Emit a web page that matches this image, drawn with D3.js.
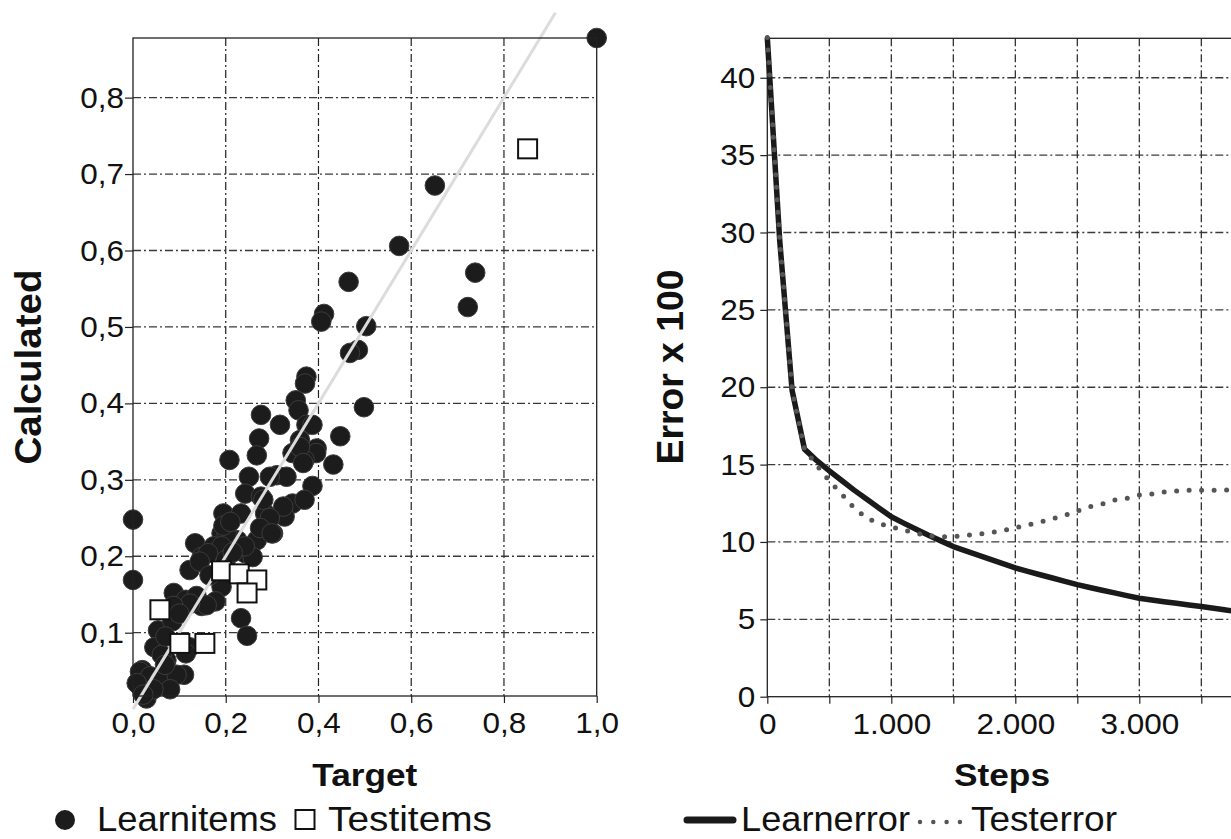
<!DOCTYPE html>
<html><head><meta charset="utf-8">
<script src="https://cdn.jsdelivr.net/npm/d3@7"></script>
<style>
body{margin:0;background:#fff}
svg{display:block}
text{font-family:"Liberation Sans",Arial,sans-serif;fill:#111}
</style>
</head><body>
<svg id="c" width="1231" height="839"></svg>
<script>
// ---------- data: left scatter ----------
const learnTarget = [1.0,0.651,0.574,0.738,0.722,0.465,0.412,0.406,0.503,0.485,0.468,0.374,0.371,0.351,0.357,0.498,0.447,0.396,0.374,0.317,0.360,0.276,0.387,0.272,0.267,0.208,0.344,0.395,0.370,0.432,0.250,0.310,0.387,0.242,0.276,0.344,0.370,0.195,0.233,0.285,0.327,0.0,0.302,0.191,0.225,0.267,0.134,0.174,0.242,0.258,0.148,0.122,0.191,0.0,0.178,0.148,0.088,0.114,0.233,0.246,0.054,0.046,0.122,0.114,0.072,0.020,0.072,0.110,0.012,0.054,0.029,0.331,0.295,0.281,0.324,0.295,0.274,0.202,0.299,0.241,0.191,0.162,0.144,0.137,0.159,0.123,0.087,0.360,0.367,0.062,0.015,0.037,0.008,0.058,0.094,0.080,0.044,0.022,0.069,0.165,0.200,0.215,0.085,0.100,0.070,0.195,0.210];
const learnCalc   = [0.878,0.685,0.606,0.571,0.526,0.559,0.517,0.507,0.501,0.470,0.466,0.435,0.426,0.404,0.391,0.395,0.357,0.341,0.372,0.372,0.352,0.385,0.372,0.354,0.332,0.326,0.335,0.335,0.326,0.320,0.304,0.306,0.292,0.282,0.278,0.269,0.274,0.256,0.256,0.256,0.252,0.248,0.230,0.230,0.221,0.221,0.217,0.213,0.204,0.199,0.199,0.182,0.160,0.169,0.141,0.135,0.152,0.143,0.119,0.096,0.103,0.081,0.081,0.073,0.064,0.051,0.043,0.045,0.032,0.030,0.014,0.304,0.304,0.274,0.265,0.250,0.237,0.230,0.230,0.213,0.213,0.204,0.193,0.148,0.136,0.138,0.135,0.343,0.322,0.071,0.049,0.043,0.034,0.038,0.045,0.026,0.026,0.019,0.058,0.175,0.195,0.205,0.115,0.125,0.095,0.240,0.245];
const testTarget = [0.851,0.058,0.101,0.155,0.191,0.229,0.267,0.246];
const testCalc   = [0.733,0.130,0.086,0.086,0.181,0.177,0.169,0.152];
const identityLine = [0, 0.911];
const scatterXTicks = [0,0.2,0.4,0.6,0.8,1.0];
const scatterYTicks = [0.1,0.2,0.3,0.4,0.5,0.6,0.7,0.8];

// ---------- data: right error curves ----------
const steps = d3.range(0, 3801, 100);
const learnError = [42.6,29.5,19.8,16.0,15.25,14.6,13.97,13.35,12.78,12.2,11.63,11.22,10.82,10.43,10.07,9.7,9.42,9.15,8.87,8.6,8.32,8.1,7.88,7.67,7.45,7.24,7.06,6.88,6.71,6.53,6.36,6.25,6.14,6.04,5.93,5.83,5.72,5.6,5.5];
const testError  = [42.6,29.5,19.8,16.0,14.95,13.95,13.1,12.2,11.55,11.2,10.98,10.77,10.56,10.4,10.34,10.34,10.43,10.51,10.6,10.73,10.92,11.1,11.29,11.5,11.72,12.0,12.28,12.45,12.71,12.82,13.03,13.1,13.23,13.29,13.34,13.34,13.34,13.36,13.36];
const stepGrid = [500,1000,1500,2000,2500,3000,3500];
const stepTicks = [0,500,1000,1500,2000,2500,3000,3500];
const errorTicks = [0,5,10,15,20,25,30,35,40];

const leftLegend = ["Learnitems","Testitems"];
const rightLegend = ["Learnerror","Testerror"];

// ---------- setup ----------
const svg = d3.select("#c");
const loc = d3.formatLocale({decimal:",", thousands:".", grouping:[3], currency:["","€"]});
const fmt1 = loc.format(".1f");
const fmtK = loc.format(",.0f");
const vGridColor = "#222";
const hGridColor = "#3a3a3a";
const dash = "8,3,2,3";

function styleAxis(a){
  a.select(".domain").remove();
  a.selectAll("line").attr("stroke","#222").attr("stroke-width",1.2);
  a.selectAll("text").attr("font-size",30).attr("fill","#111")
   .attr("font-family",'"Liberation Sans",Arial,sans-serif')
   .each(function(){const L=this.getComputedTextLength(); if(L>0) d3.select(this).attr("textLength",L*1.05).attr("lengthAdjust","spacingAndGlyphs");});
}

// ================= LEFT CHART =================
const xL = d3.scaleLinear([0,1],[133,596.7]);
const yL = d3.scaleLinear([0.0172,0.878],[696,38]);
const gL = svg.append("g");

gL.selectAll(".vg").data(scatterXTicks.filter(d=>d>0&&d<1)).join("line")
  .attr("x1",d=>xL(d)).attr("x2",d=>xL(d)).attr("y1",yL.range()[1]).attr("y2",yL.range()[0])
  .attr("stroke",vGridColor).attr("stroke-width",1.2).attr("stroke-dasharray",dash);
gL.selectAll(".hg").data(scatterYTicks).join("line")
  .attr("x1",xL(0)).attr("x2",xL(1)).attr("y1",d=>yL(d)).attr("y2",d=>yL(d))
  .attr("stroke",hGridColor).attr("stroke-width",1.3).attr("stroke-dasharray",dash);

const axBL = gL.append("g").attr("transform",`translate(0,${yL.range()[0]})`)
  .call(d3.axisBottom(xL).tickValues(scatterXTicks).tickFormat(fmt1).tickSize(7).tickPadding(9));
const axLL = gL.append("g").attr("transform",`translate(${xL(0)},0)`)
  .call(d3.axisLeft(yL).tickValues(scatterYTicks).tickFormat(fmt1).tickSize(8).tickPadding(1));
styleAxis(axBL); styleAxis(axLL);

const learn = learnTarget.map((t,i)=>({t, c:learnCalc[i]}));
gL.selectAll(".lp").data(learn).join("circle")
  .attr("cx",d=>xL(d.t)).attr("cy",d=>yL(d.c)).attr("r",9.8)
  .attr("fill","#1c1c1c").attr("stroke","#3c3c3c").attr("stroke-width",1);

gL.append("line").attr("x1",xL(identityLine[0])).attr("y1",yL(identityLine[0]))
  .attr("x2",xL(identityLine[1])).attr("y2",yL(identityLine[1]))
  .attr("stroke","#dcdcdc").attr("stroke-width",3);

const test = testTarget.map((t,i)=>({t, c:testCalc[i]}));
gL.selectAll(".tp").data(test).join("rect")
  .attr("x",d=>xL(d.t)-9.5).attr("y",d=>yL(d.c)-9.5).attr("width",19).attr("height",19)
  .attr("fill","#fff").attr("stroke","#111").attr("stroke-width",2);

gL.append("rect").attr("x",xL(0)).attr("y",yL.range()[1]).attr("width",xL(1)-xL(0)).attr("height",yL.range()[0]-yL.range()[1])
  .attr("fill","none").attr("stroke","#222").attr("stroke-width",1.3);

gL.append("text").attr("x",(xL(0)+xL(1))/2).attr("y",786).attr("text-anchor","middle")
  .attr("font-weight","bold").attr("font-size",31).attr("textLength",105).attr("lengthAdjust","spacingAndGlyphs").text("Target");
gL.append("text").attr("transform",`translate(41,367) rotate(-90)`).attr("text-anchor","middle")
  .attr("font-weight","bold").attr("font-size",37).attr("textLength",195).attr("lengthAdjust","spacingAndGlyphs").text("Calculated");

// legend
gL.append("circle").attr("cx",65).attr("cy",820).attr("r",10).attr("fill","#1c1c1c");
gL.append("text").attr("x",97).attr("y",831).attr("font-size",35).attr("textLength",180).attr("lengthAdjust","spacingAndGlyphs").text(leftLegend[0]);
gL.append("rect").attr("x",295.5).attr("y",810).attr("width",19).attr("height",19).attr("fill","#fff").attr("stroke","#111").attr("stroke-width",2);
gL.append("text").attr("x",328).attr("y",831).attr("font-size",35).attr("textLength",164).attr("lengthAdjust","spacingAndGlyphs").text(leftLegend[1]);

// ================= RIGHT CHART =================
const xR = d3.scaleLinear([0,3800],[767.3,767.3+3800*0.124]);
const yR = d3.scaleLinear([0,42.55],[696.7,38.3]);
const gR = svg.append("g");

gR.selectAll(".vg").data(stepGrid).join("line")
  .attr("x1",d=>xR(d)).attr("x2",d=>xR(d)).attr("y1",yR.range()[1]).attr("y2",yR.range()[0])
  .attr("stroke",vGridColor).attr("stroke-width",1.2).attr("stroke-dasharray",dash);
gR.selectAll(".hg").data(errorTicks.filter(d=>d>0)).join("line")
  .attr("x1",xR(0)).attr("x2",xR(3800)).attr("y1",d=>yR(d)).attr("y2",d=>yR(d))
  .attr("stroke",hGridColor).attr("stroke-width",1.3).attr("stroke-dasharray",dash);

const axBR = gR.append("g").attr("transform",`translate(0,${yR.range()[0]})`)
  .call(d3.axisBottom(xR).tickValues(stepTicks).tickFormat(d=>d%1000===0?fmtK(d):"").tickSize(7).tickPadding(9));
const axLR = gR.append("g").attr("transform",`translate(${xR(0)},0)`)
  .call(d3.axisLeft(yR).tickValues(errorTicks).tickFormat(d3.format("d")).tickSize(7).tickPadding(5));
styleAxis(axBR); styleAxis(axLR);

gR.append("rect").attr("x",xR(0)).attr("y",yR.range()[1]).attr("width",xR(3800)-xR(0)).attr("height",yR.range()[0]-yR.range()[1])
  .attr("fill","none").attr("stroke","#222").attr("stroke-width",1.3);

const lineGen = vals => d3.line().x((d,i)=>xR(steps[i])).y(d=>yR(d))(vals);
gR.append("path").attr("d",lineGen(learnError)).attr("fill","none")
  .attr("stroke","#1a1a1a").attr("stroke-width",5.5).attr("stroke-linejoin","round");
gR.append("path").attr("d",lineGen(testError)).attr("fill","none")
  .attr("stroke","#555").attr("stroke-width",5).attr("stroke-linecap","round").attr("stroke-dasharray","0,12.5");

gR.append("text").attr("x",1002).attr("y",786).attr("text-anchor","middle")
  .attr("font-weight","bold").attr("font-size",31).attr("textLength",96).attr("lengthAdjust","spacingAndGlyphs").text("Steps");
gR.append("text").attr("transform",`translate(683,367) rotate(-90)`).attr("text-anchor","middle")
  .attr("font-weight","bold").attr("font-size",37).attr("textLength",195).attr("lengthAdjust","spacingAndGlyphs").text("Error x 100");

// legend
gR.append("line").attr("x1",687).attr("x2",733).attr("y1",820).attr("y2",820).attr("stroke","#1a1a1a").attr("stroke-width",7).attr("stroke-linecap","round");
gR.append("text").attr("x",741).attr("y",831).attr("font-size",35).attr("textLength",169).attr("lengthAdjust","spacingAndGlyphs").text(rightLegend[0]);
gR.append("line").attr("x1",920).attr("x2",960).attr("y1",822).attr("y2",822).attr("stroke","#555").attr("stroke-width",4.5).attr("stroke-linecap","round").attr("stroke-dasharray","0,13.3");
gR.append("text").attr("x",971).attr("y",831).attr("font-size",35).attr("textLength",146).attr("lengthAdjust","spacingAndGlyphs").text(rightLegend[1]);
</script>
</body></html>
